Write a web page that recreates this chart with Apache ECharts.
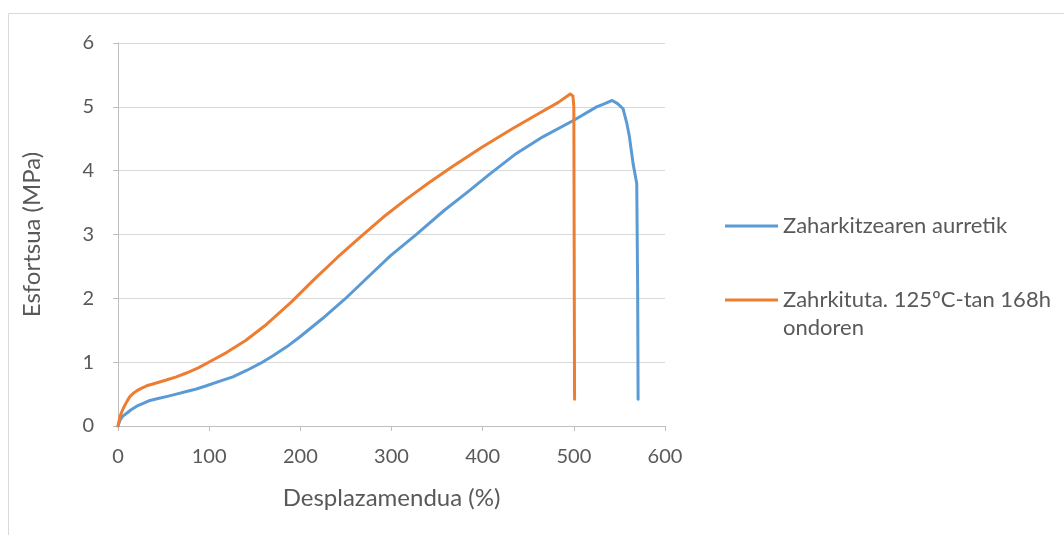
<!DOCTYPE html>
<html>
<head>
<meta charset="utf-8">
<script src="https://cdn.jsdelivr.net/npm/echarts@6/dist/echarts.min.js"></script>
<style>
html,body{margin:0;padding:0;background:#fff;}
#main{width:1064px;height:535px;}
</style>
</head>
<body>
<div id="main"></div>
<script>
// Series names
const seriesNames = ['Zaharkitzearen aurretik', 'Zahrkituta. 125ºC-tan 168h ondoren'];
// Axis ticks
const xTicks = [0, 100, 200, 300, 400, 500, 600];
const yTicks = [0, 1, 2, 3, 4, 5, 6];
// Blue: before ageing  [displacement %, stress MPa]
const blueX = [0, 2.2, 5, 9.5, 14, 20.5, 27, 35, 44, 53, 64, 75, 86, 97, 111, 126, 141, 156, 170, 185, 199, 224, 249, 274, 299, 328, 358, 383, 408, 437, 466, 500, 525, 534, 542, 548, 554, 558, 561, 565, 569, 570, 570.5];
const blueY = [0, 0.09, 0.15, 0.20, 0.25, 0.31, 0.35, 0.40, 0.43, 0.46, 0.50, 0.54, 0.58, 0.63, 0.70, 0.77, 0.87, 0.98, 1.10, 1.24, 1.39, 1.68, 1.99, 2.33, 2.67, 3.01, 3.38, 3.66, 3.95, 4.27, 4.53, 4.79, 5.00, 5.05, 5.10, 5.05, 4.97, 4.75, 4.53, 4.11, 3.80, 2.17, 0.42];
// Orange: aged 125ºC 168h
const orangeX = [0, 2.2, 5, 7.7, 10, 13, 16.5, 20.5, 25.5, 31.5, 41, 53, 64, 75, 88, 101, 119, 140, 161, 190, 215.5, 240.6, 265.7, 290.8, 316, 341, 366.5, 399.6, 433, 462, 483, 496, 499, 500, 500.8];
const orangeY = [0, 0.15, 0.25, 0.33, 0.39, 0.46, 0.51, 0.55, 0.59, 0.63, 0.67, 0.72, 0.77, 0.83, 0.91, 1.01, 1.15, 1.34, 1.57, 1.94, 2.30, 2.64, 2.96, 3.27, 3.55, 3.81, 4.06, 4.37, 4.66, 4.90, 5.07, 5.20, 5.17, 5.0, 0.42];

const zip = (xs, ys) => xs.map((x, i) => [x, ys[i]]);
const FONT = 'Lato';
const TXT = '#595959';

const chart = echarts.init(document.getElementById('main'), null, {renderer: 'canvas'});
chart.setOption({
  animation: false,
  backgroundColor: '#fff',
  textStyle: {fontFamily: FONT},
  graphic: [{
    type: 'rect', silent: true, z: -10,
    shape: {x: 8.5, y: 13.5, width: 1070, height: 540},
    style: {fill: 'none', stroke: '#d9d9d9', lineWidth: 1}
  }],
  grid: {left: 118, right: 399, top: 43, bottom: 109, containLabel: false},
  legend: [{
    data: [seriesNames[0]],
    orient: 'vertical', left: 720, top: 207,
    icon: 'rect', itemWidth: 53, itemHeight: 3, itemGap: 0,
    textStyle: {fontFamily: FONT, fontSize: 22, color: TXT, lineHeight: 28}
  }, {
    data: [seriesNames[1]],
    orient: 'vertical', left: 720, top: 253,
    icon: 'rect', itemWidth: 53, itemHeight: 3, itemGap: 0,
    formatter: function (n) { return ' \nZahrkituta. 125ºC-tan 168h\nondoren'; },
    textStyle: {fontFamily: FONT, fontSize: 22, color: TXT, lineHeight: 28}
  }],
  xAxis: {
    type: 'value', min: xTicks[0], max: xTicks[xTicks.length - 1], interval: 100,
    name: 'Desplazamendua (%)', nameLocation: 'middle', nameGap: 60,
    nameTextStyle: {fontFamily: FONT, fontSize: 24, color: TXT},
    axisLine: {show: true, lineStyle: {color: '#bfbfbf', width: 1}},
    axisTick: {show: true, length: 5, lineStyle: {color: '#bfbfbf'}},
    axisLabel: {fontFamily: FONT, fontSize: 20, color: TXT, margin: 21},
    splitLine: {show: false}
  },
  yAxis: {
    type: 'value', min: yTicks[0], max: yTicks[yTicks.length - 1], interval: 1,
    name: 'Esfortsua (MPa)', nameLocation: 'middle', nameGap: 74, nameRotate: 90,
    nameTextStyle: {fontFamily: FONT, fontSize: 24, color: TXT},
    axisLine: {show: true, lineStyle: {color: '#bfbfbf', width: 1}},
    axisTick: {show: true, length: 5, lineStyle: {color: '#bfbfbf'}},
    axisLabel: {fontFamily: FONT, fontSize: 20, color: TXT, margin: 24},
    splitLine: {show: true, lineStyle: {color: '#d9d9d9', width: 1}}
  },
  series: [{
    name: seriesNames[0], type: 'line', data: zip(blueX, blueY),
    showSymbol: false, symbol: 'none', smooth: false,
    lineStyle: {color: '#5b9bd5', width: 3, cap: 'round', join: 'round'},
    itemStyle: {color: '#5b9bd5'}
  }, {
    name: seriesNames[1], type: 'line', data: zip(orangeX, orangeY),
    showSymbol: false, symbol: 'none', smooth: false,
    lineStyle: {color: '#ed7d31', width: 3, cap: 'round', join: 'round'},
    itemStyle: {color: '#ed7d31'}
  }]
});
</script>
</body>
</html>
